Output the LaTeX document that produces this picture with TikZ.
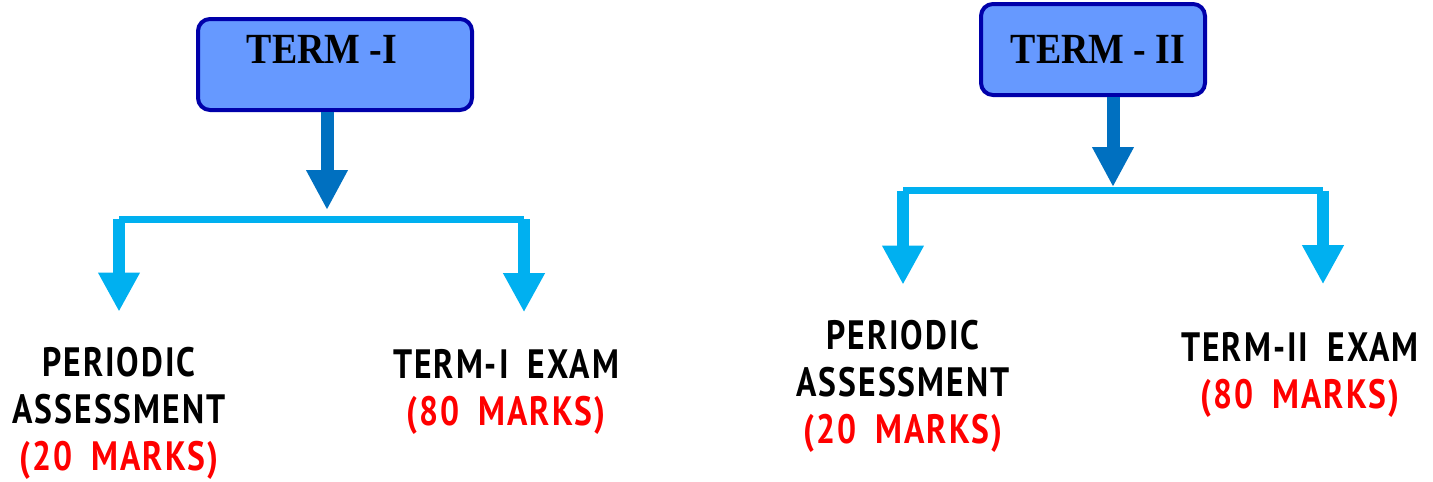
\documentclass[tikz,border=0pt]{standalone}
\usepackage{fontspec}
\usepackage{tikz}
\usetikzlibrary{arrows.meta}
\setmainfont{Liberation Serif}
\newfontfamily\termfont[FakeStretch=0.88]{Liberation Serif}
\newfontfamily\marksfont[FakeStretch=0.82, LetterSpace=5, WordSpace=1.8]{PT Sans}
\definecolor{boxfill}{RGB}{102,153,255}
\definecolor{boxline}{RGB}{0,0,170}
\definecolor{trunkblue}{RGB}{0,112,192}
\definecolor{branchblue}{RGB}{0,176,240}
\definecolor{marksred}{RGB}{255,0,0}

\begin{document}
\begin{tikzpicture}[x=1pt,y=-1pt,
		termbox/.style={rectangle, rounded corners=12pt, draw=boxline, fill=boxfill, line width=4pt,
			minimum height=91pt, text height=28pt, text depth=0pt, inner sep=0pt,
			font=\termfont\bfseries\fontsize{43}{45}\selectfont},
		marks/.style={align=center, inner sep=0pt, font=\marksfont\bfseries\fontsize{41}{47}\selectfont},
		trunk/.style={draw=trunkblue, line width=13pt, -{Triangle[width=39pt,length=40pt]}},
		bar/.style={draw=branchblue, line width=7pt},
		branch/.style={draw=branchblue, line width=12pt, -{Triangle[width=39pt,length=39pt]}},
		]
		\useasboundingbox (0,0) rectangle (1433,482);
		
		%Term I
		\node[termbox, minimum width=274pt, text depth=30pt] (t1) at (335,64.5) {TERM -I\hspace*{26pt}};
		\coordinate (j1) at (327,210);
		\coordinate (b1l) at (119,219);
		\coordinate (b1r) at (524,219);
		\node[marks] (pa1) at (119,413) {PERIODIC\\ASSESSMENT\\\textcolor{marksred}{(20 MARKS)}};
		\node[marks] (ex1) at (506,392) {TERM-I EXAM\\\textcolor{marksred}{(80 MARKS)}};
		
		\draw[trunk] (t1.south -| j1) -- (j1);
		\draw[bar] (b1l) -- (b1r);
		\draw[branch, shorten >=35pt] (b1l) -- (b1l |- pa1.north);
		\draw[branch, shorten >=37pt] (b1r) -- (b1r |- ex1.north);
		
		%Term II
		\node[termbox, minimum width=224pt] (t2) at (1093,49.5) {\hspace*{10pt}TERM - II};
		\coordinate (j2) at (1113,187);
		\coordinate (b2l) at (903,190.5);
		\coordinate (b2r) at (1323,190.5);
		\node[marks] (pa2) at (903,386) {PERIODIC\\ASSESSMENT\\\textcolor{marksred}{(20 MARKS)}};
		\node[marks] (ex2) at (1300,375) {TERM-II EXAM\\\textcolor{marksred}{(80 MARKS)}};
		
		\draw[trunk] (t2.south -| j2) -- (j2);
		\draw[bar] (b2l) -- (b2r);
		\draw[branch, shorten >=35pt] (b2l) -- (b2l |- pa2.north);
		\draw[branch, shorten >=48pt] (b2r) -- (b2r |- ex2.north);
\end{tikzpicture}
\end{document}
